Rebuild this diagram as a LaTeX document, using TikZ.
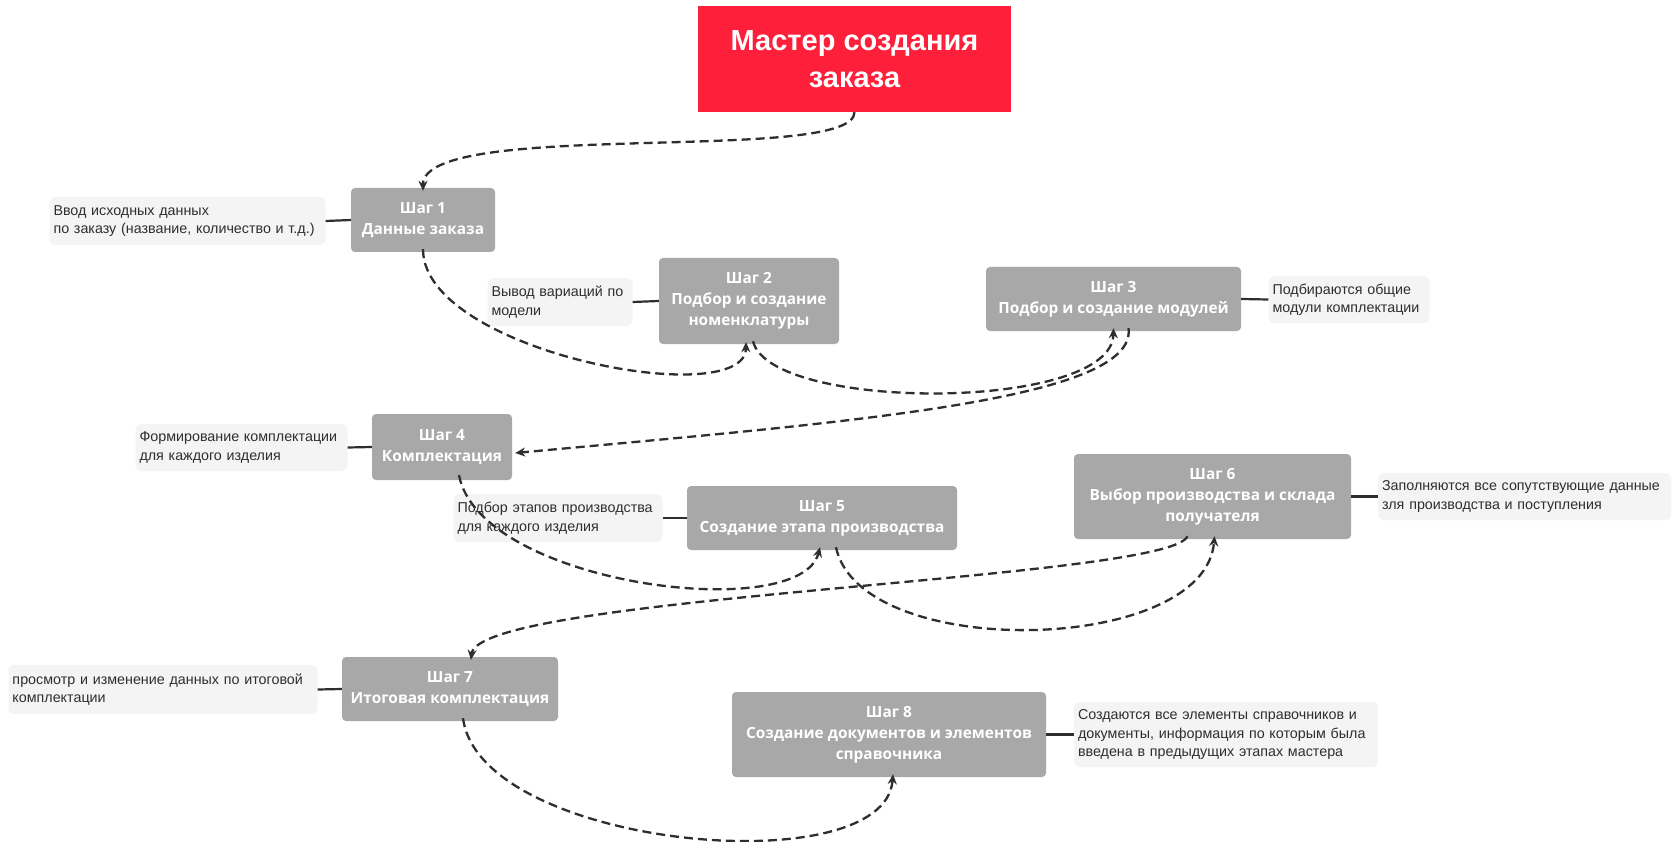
\documentclass[tikz,border=0pt]{standalone}
\usepackage{fontspec}
\setmainfont{Liberation Sans}
\newfontfamily\stepfont{Open Sans}
\usetikzlibrary{arrows.meta}
\definecolor{stepgray}{HTML}{A8A8A8}
\definecolor{notebg}{HTML}{F4F4F4}
\definecolor{titlered}{HTML}{FE1F3B}
\definecolor{ink}{HTML}{2E2E2E}
\begin{document}
\begin{tikzpicture}[x=1pt,y=-1pt,
  stepbox/.style={fill=stepgray, rounded corners=4pt, text=white, align=center,
    font=\stepfont\bfseries\fontsize{15.4}{21}\selectfont, inner sep=0pt},
  notebox/.style={fill=notebg, rounded corners=6pt, text=ink, align=left,
    font=\fontsize{14.3}{18.5}\selectfont, inner xsep=4pt, inner ysep=0pt},
  titlebox/.style={fill=titlered, text=white, align=center,
    font=\bfseries\fontsize{29}{37}\selectfont, inner sep=0pt},
  link/.style={draw=ink, line width=2.2pt},
  flow/.style={draw=ink, line width=2.3pt, dash pattern=on 9pt off 5pt,
    -{Stealth[length=10pt,width=9pt]}}]
\useasboundingbox[fill=white] (0,0) rectangle (1675,842);

% title
\node[titlebox, minimum width=313, minimum height=106] (title) at (854.5,59) {Мастер создания\\заказа};

% steps
\node[stepbox, minimum width=144, minimum height=64] (s1) at (423,220) {Шаг 1\\Данные заказа};
\node[stepbox, minimum width=180, minimum height=86] (s2) at (749,301) {Шаг 2\\Подбор и создание\\номенклатуры};
\node[stepbox, minimum width=255, minimum height=64] (s3) at (1113.5,299) {Шаг 3\\Подбор и создание модулей};
\node[stepbox, minimum width=140, minimum height=66] (s4) at (442,447) {Шаг 4\\Комплектация};
\node[stepbox, minimum width=270, minimum height=64] (s5) at (822,518) {Шаг 5\\Создание этапа производства};
\node[stepbox, minimum width=277, minimum height=85] (s6) at (1212.5,496.5) {Шаг 6\\Выбор производства и склада\\получателя};
\node[stepbox, minimum width=216, minimum height=64] (s7) at (450,689) {Шаг 7\\Итоговая комплектация};
\node[stepbox, minimum width=314, minimum height=85] (s8) at (889,734.5) {Шаг 8\\Создание документов и элементов\\справочника};

% notes
\node[notebox, text width=268, minimum height=48] (n1) at (187.5,221) {Ввод исходных данных\\по заказу (название, количество и т.д.)};
\node[notebox, text width=137, minimum height=48] (n2) at (560,302) {Вывод вариаций по\\модели};
\node[notebox, text width=153, minimum height=47] (n3) at (1349,299.5) {Подбираются общие\\модули комплектации};
\node[notebox, text width=204, minimum height=47] (n4) at (241.5,447.5) {Формирование комплектации\\для каждого изделия};
\node[notebox, text width=201, minimum height=48] (n5) at (558,518) {Подбор этапов производства\\для каждого изделия};
\node[notebox, text width=285, minimum height=47] (n6) at (1524.5,496.5) {Заполняются все сопутствующие данные\\зля производства и поступления};
\node[notebox, text width=301, minimum height=49] (n7) at (163,689.5) {просмотр и изменение данных по итоговой\\комплектации};
\node[notebox, text width=296, minimum height=65] (n8) at (1226,734.5) {Создаются все элементы справочников и\\документы, информация по которым была\\введена в предыдущих этапах мастера};

% solid links
\draw[link] (n1.east) -- (s1.west);
\draw[link] (n2.east) -- (s2.west);
\draw[link] (s3.east) -- (n3.west);
\draw[link] (n4.east) -- (s4.west);
\draw[link] (n5.east) -- (s5.west);
\draw[link] (s6.east) -- (n6.west);
\draw[link] (n7.east) -- (s7.west);
\draw[link] (s8.east) -- (n8.west);

% dashed flow
\draw[flow] (title.south) .. controls (854.5,165) and (423,118) .. ([yshift=-3]s1.north);
\draw[flow] ([yshift=3]s1.south) .. controls (423,352) and (745,412) .. ([xshift=-3,yshift=2]s2.south);
\draw[flow] ([xshift=4,yshift=3]s2.south) .. controls (770,412) and (1112,412) .. ([yshift=3]s3.south);
\draw[flow] ([xshift=15,yshift=3]s3.south) .. controls (1138,400) and (850,422) .. ([xshift=3,yshift=-6]s4.east);
\draw[flow] ([xshift=17,yshift=5]s4.south) .. controls (480,585) and (800,625) .. ([xshift=-2,yshift=3]s5.south);
\draw[flow] ([xshift=14,yshift=3]s5.south) .. controls (860,662) and (1205,655) .. ([xshift=2,yshift=3]s6.south);
\draw[flow] ([xshift=-25,yshift=3]s6.south) .. controls (1170,580) and (478,595) .. ([xshift=21,yshift=-3]s7.north);
\draw[flow] ([xshift=13,yshift=3]s7.south) .. controls (480,848) and (885,885) .. ([xshift=4,yshift=3]s8.south);
\end{tikzpicture}
\end{document}
